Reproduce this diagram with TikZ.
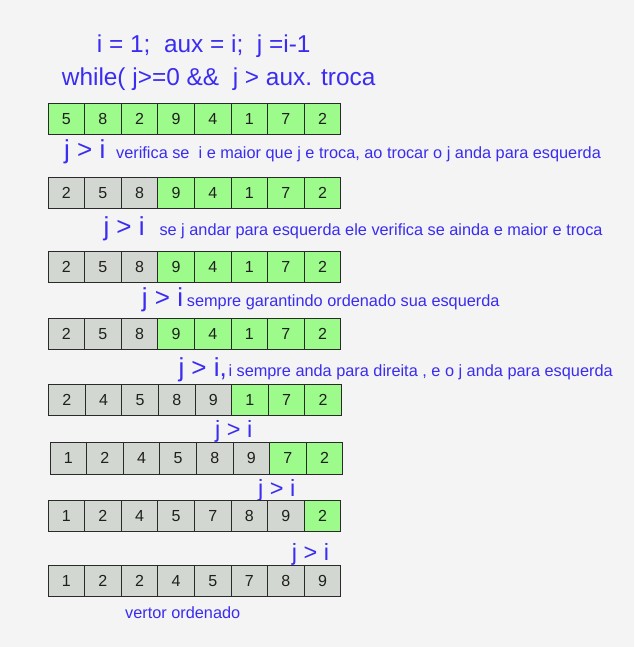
\documentclass[tikz,border=0pt]{standalone}
\usepackage{fontspec}
\setmainfont{Liberation Sans}
\definecolor{bg}{HTML}{F4F4F4}
\definecolor{txtblue}{HTML}{3A2CF0}
\definecolor{cellgreen}{HTML}{9CFB8A}
\definecolor{cellgray}{HTML}{D3D7D1}
\definecolor{cellline}{HTML}{2A2A2A}
\tikzset{
  cell/.style={draw=cellline, line width=1pt, minimum width=36.6pt, minimum height=31.5pt,
    inner sep=0pt, font=\fontsize{16}{16}\selectfont, text=black!88},
  gcell/.style={cell, fill=cellgreen},
  scell/.style={cell, fill=cellgray},
  code/.style={text=txtblue, font=\fontsize{24.4}{28}\selectfont, anchor=base west, inner sep=0pt},
  cmpbig/.style={text=txtblue, font=\fontsize{26}{28}\selectfont, anchor=base west, inner sep=0pt},
  cmpsmall/.style={text=txtblue, font=\fontsize{23.5}{26}\selectfont, anchor=base west, inner sep=0pt},
  note/.style={text=txtblue, font=\fontsize{16.3}{18}\selectfont, anchor=base west, inner sep=0pt},
}
\newcommand\drawcellrow[5]{%
  \foreach \v [count=\k] in {#5} {%
    \ifnum\k>#4 \def\st{gcell}\else\def\st{scell}\fi
    \node[\st] (#1c\k) at ({#2+(\k-0.5)*36.6},#3) {\v};
  }%
}
\begin{document}
\begin{tikzpicture}[x=1pt,y=-1pt]
\fill[bg] (0,0) rectangle (634,647);
\useasboundingbox (0,0) rectangle (634,647);

\node[code] (init) at (96.7,52.7) {i = 1;\ \ aux = i;\ \ j =i-1};
\node[code] (loop) at (61.7,86) {while( j>=0 \&\&\ \ j > aux. troca};

\drawcellrow{ra}{48}{118.8}{0}{5,8,2,9,4,1,7,2}
\node[cmpbig] (ca) at (64,159) {j > i};
\node[note] (na) at (116,159) {verifica se\ \ i e maior que j e troca, ao trocar o j anda para esquerda};

\drawcellrow{rb}{48}{192.8}{3}{2,5,8,9,4,1,7,2}
\node[cmpbig] (cb) at (103.3,235) {j > i};
\node[note] (nb) at (159.3,235) {se j andar para esquerda ele verifica se ainda e maior e troca};

\drawcellrow{rc}{48}{267}{3}{2,5,8,9,4,1,7,2}
\node[cmpbig] (cc) at (141.7,306.5) {j > i};
\node[note] (nc) at (186.7,306.5) {sempre garantindo ordenado sua esquerda};

\drawcellrow{rd}{48}{333.8}{3}{2,5,8,9,4,1,7,2}
\node[cmpbig] (cd) at (178.3,376) {j > i,};
\node[note] (nd) at (228.3,376) {i sempre anda para direita , e o j anda para esquerda};

\drawcellrow{re}{48.6}{399.9}{5}{2,4,5,8,9,1,7,2}
\node[cmpsmall] (ce) at (215,437) {j > i};

\drawcellrow{rf}{50}{458.3}{6}{1,2,4,5,8,9,7,2}
\node[cmpsmall] (cf) at (258,496) {j > i};

\drawcellrow{rg}{48}{516.2}{7}{1,2,4,5,7,8,9,2}
\node[cmpsmall] (cg) at (291.7,560) {j > i};

\drawcellrow{rh}{48}{581.2}{8}{1,2,2,4,5,7,8,9}
\node[note] (nh) at (125,618.3) {vertor ordenado};
\end{tikzpicture}
\end{document}
